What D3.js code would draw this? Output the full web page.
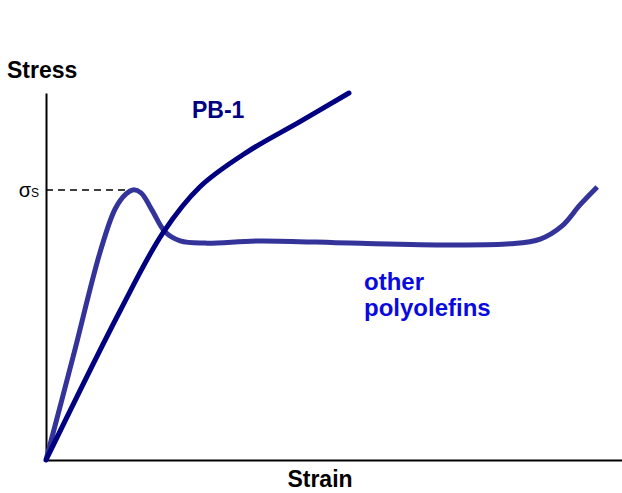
<html>
<head>
    <meta charset="UTF-8">
    <title>Stress vs strain</title>
    <script src="https://d3js.org/d3.v7.min.js"></script>
    <style>
        body { margin: 0; background: #fff; }
        svg text { font-family: "Liberation Sans", Arial, sans-serif; }
        .axis path { stroke: #000; stroke-width: 2px; }
        .label { font-weight: bold; font-size: 23px; }
    </style>
</head>
<body>
    <svg width="622" height="493"></svg>
    <script>
        // strain / stress in arbitrary units (0-100 on both axes)
        var pb1Strain = [0, 12.85, 20.3, 26.7, 34.9, 44.1, 52.6];
        var pb1Stress = [0, 40.6, 61.9, 74.4, 83.9, 92.2, 100.0];

        var otherStrain = [0, 4.7, 9.4, 12.0, 13.9, 15.1, 16.5, 18.4, 20.7, 23.3, 27.6, 37.2, 52.8, 70.1, 80.6, 85.8, 89.6, 92.7, 95.7];
        var otherStress = [0, 28.1, 56.7, 68.4, 72.5, 73.6, 72.8, 68.1, 62.1, 59.7, 59.1, 59.7, 59.1, 58.6, 58.9, 60.2, 63.8, 69.5, 74.4];

        var yieldStress = 73.6, yieldStrain = 15.1;

        var svg = d3.select('svg');
        var x = d3.scaleLinear().domain([0, 100]).range([46, 622]);
        var y = d3.scaleLinear().domain([0, 100]).range([460, 93]);

        var line = d3.line()
            .x(d => x(d[0]))
            .y(d => y(d[1]))
            .curve(d3.curveCatmullRom.alpha(0.5));

        // axes, no ticks
        svg.append('g').attr('class', 'axis')
            .attr('transform', 'translate(0,' + y(0) + ')')
            .call(d3.axisBottom(x).tickValues([]).tickSizeOuter(0));
        svg.append('g').attr('class', 'axis')
            .attr('transform', 'translate(' + x(0) + ',0)')
            .call(d3.axisLeft(y).tickValues([]).tickSizeOuter(0));

        // yield stress marker
        svg.append('line')
            .attr('x1', x(0)).attr('x2', x(yieldStrain))
            .attr('y1', y(yieldStress)).attr('y2', y(yieldStress))
            .attr('stroke', '#000').attr('stroke-width', 1.5)
            .attr('stroke-dasharray', '7,5');

        var sig = svg.append('text').attr('x', 39).attr('y', y(yieldStress) + 7)
            .attr('text-anchor', 'end');
        sig.append('tspan').attr('font-size', 20).text('σ');
        sig.append('tspan').attr('font-size', 12).text('S');

        svg.append('path')
            .datum(otherStrain.map((s, i) => [s, otherStress[i]]))
            .attr('d', line)
            .attr('fill', 'none').attr('stroke', '#333399')
            .attr('stroke-width', 5);

        svg.append('path')
            .datum(pb1Strain.map((s, i) => [s, pb1Stress[i]]))
            .attr('d', line)
            .attr('fill', 'none').attr('stroke', '#000080')
            .attr('stroke-width', 5).attr('stroke-linecap', 'round');

        svg.append('text').attr('class', 'label').attr('x', 7).attr('y', 78).text('Stress');
        svg.append('text').attr('class', 'label').attr('x', 320).attr('y', 487)
            .attr('text-anchor', 'middle').text('Strain');
        svg.append('text').attr('class', 'label').attr('x', 192).attr('y', 118)
            .attr('fill', '#000080').text('PB-1');
        var other = svg.append('text').attr('class', 'label').attr('fill', '#0a0ae0')
            .style('font-size', '24px');
        other.append('tspan').attr('x', 364).attr('y', 290).text('other');
        other.append('tspan').attr('x', 364).attr('y', 316).text('polyolefins');
    </script>
</body>
</html>
